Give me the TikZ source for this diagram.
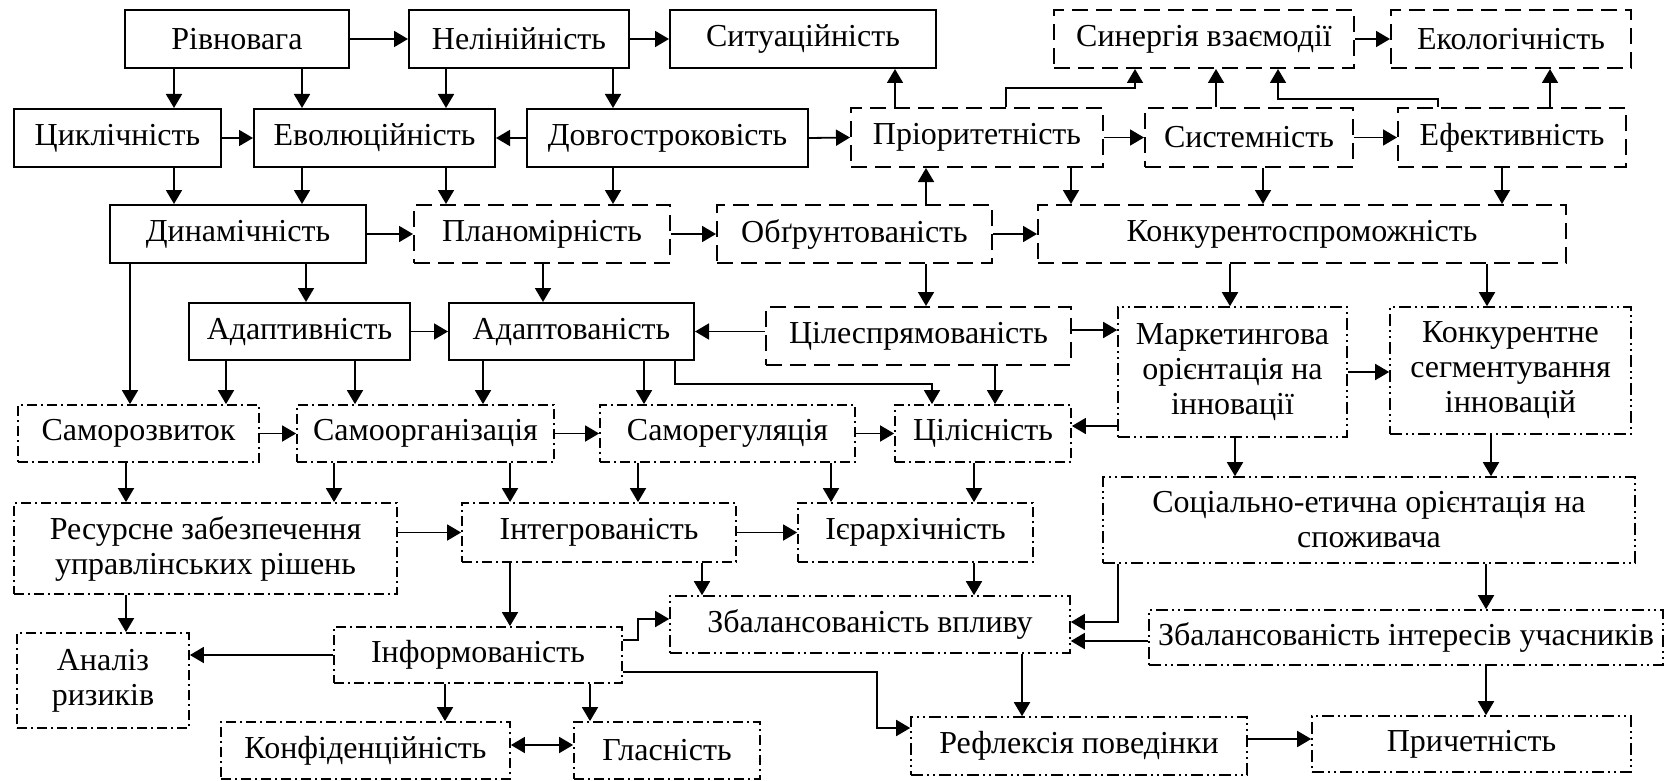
\documentclass[tikz,border=0pt]{standalone}
\usepackage{fontspec}
\setmainfont{Liberation Serif}
\usepackage{tikz}
\usetikzlibrary{arrows.meta}

\tikzset{
  box/.style={rectangle, inner sep=2pt, align=center, font=\fontsize{16}{17.5}\selectfont},
  solidbox/.style={box, draw, line width=1pt},
  dashbox/.style={box, draw, line width=1pt, dash pattern=on 8pt off 4pt},
  dotbox/.style={box, draw, line width=0.9pt, dash pattern=on 5pt off 2pt on 1pt off 2pt},
  dotdotbox/.style={box, draw, line width=0.8pt, dash pattern=on 6pt off 2pt on 1pt off 2pt on 1pt off 2pt},
  wh/.style 2 args={minimum width=#1*0.5pt, minimum height=#2*0.5pt},
  arr/.style={-{Triangle[length=7pt,width=8pt]}, line width=0.9pt},
}

\begin{document}
\begin{tikzpicture}[x=0.5pt, y=-0.5pt]
  \useasboundingbox (0,0) rectangle (1669,781);

  % solid
  \node[solidbox, wh={224}{58}] (rivn) at (237,39) {Рівновага};
  \node[solidbox, wh={220}{58}] (nelin) at (519,39) {Нелінійність};
  \node[solidbox, wh={266}{58}] (sytu) at (803,39) {Ситуаційність};
  \node[solidbox, wh={207}{58}] (cykl) at (117.5,138) {Циклічність};
  \node[solidbox, wh={241}{58}] (evol) at (374.5,138) {Еволюційність};
  \node[solidbox, wh={281}{58}] (dovh) at (667.5,138) {Довгостроковість};
  \node[solidbox, wh={256}{58}] (dynam) at (238,234) {Динамічність};
  \node[solidbox, wh={221}{57}] (adaptv) at (299.5,331.5) {Адаптивність};
  \node[solidbox, wh={245}{57}] (adapto) at (571.5,331.5) {Адаптованість};

  % dashed
  \node[dashbox, wh={300}{58}] (synerh) at (1204,39) {Синергія взаємодії};
  \node[dashbox, wh={240}{58}] (ekol) at (1511,39) {Екологічність};
  \node[dashbox, wh={252}{59}] (prior) at (977,137.5) {Пріоритетність};
  \node[dashbox, wh={208}{59}] (system) at (1249,137.5) {Системність};
  \node[dashbox, wh={228}{59}] (efekt) at (1512,137.5) {Ефективність};
  \node[dashbox, wh={256}{58}] (planom) at (542,234) {Планомірність};
  \node[dashbox, wh={275}{58}] (obgr) at (854.5,234) {Обґрунтованість};
  \node[dashbox, wh={528}{58}] (konk) at (1302,234) {Конкурентоспроможність};
  \node[dashbox, wh={305}{58}] (tsilespr) at (918.5,336) {Цілеспрямованість};

  % dash dot
  \node[dotbox, wh={241}{57}] (samrozv) at (138.5,433.5) {Саморозвиток};
  \node[dotbox, wh={257}{57}] (samorg) at (425.5,433.5) {Самоорганізація};
  \node[dotbox, wh={255}{57}] (samreg) at (727.5,433.5) {Саморегуляція};
  \node[dotbox, wh={176}{57}] (tsilisn) at (983,433.5) {Цілісність};
  \node[dotbox, wh={383}{91}] (resurs) at (205.5,548.5) {Ресурсне забезпечення\\управлінських рішень};
  \node[dotbox, wh={274}{59}] (intehr) at (599,532.5) {Інтегрованість};
  \node[dotbox, wh={235}{59}] (iyerarkh) at (915.5,532.5) {Ієрархічність};
  \node[dotbox, wh={288}{56}] (inform) at (478,655) {Інформованість};
  \node[dotbox, wh={172}{95}] (analiz) at (103,680.5) {Аналіз\\ризиків};
  \node[dotbox, wh={289}{57}] (konfid) at (365.5,750.5) {Конфіденційність};
  \node[dotbox, wh={186}{57}] (hlasn) at (667,750.5) {Гласність};

  % dash dot dot
  \node[dotdotbox, wh={229}{130}] (market) at (1232.5,372) {Маркетингова\\орієнтація на\\інновації};
  \node[dotdotbox, wh={241}{127}] (konksegm) at (1510.5,370.5) {Конкурентне\\сегментування\\інновацій};
  \node[dotdotbox, wh={532}{86}] (sots) at (1369,520) {Соціально-етична орієнтація на\\споживача};
  \node[dotdotbox, wh={400}{57}] (zbvplyv) at (870,624.5) {Збалансованість впливу};
  \node[dotdotbox, wh={514}{55}] (zbint) at (1406,637.5) {Збалансованість інтересів учасників};
  \node[dotdotbox, wh={336}{58}] (refl) at (1079,746) {Рефлексія поведінки};
  \node[dotdotbox, wh={319}{56}] (prychet) at (1471.5,744) {Причетність};

  % horizontal links
  \draw[arr] (rivn.east) -- (nelin.west);
  \draw[arr] (nelin.east) -- (sytu.west);
  \draw[arr] (synerh.east) -- (ekol.west);
  \draw[arr] (cykl.east) -- (evol.west);
  \draw[arr] (dovh.west) -- (evol.east);
  \draw[arr] (dovh.east) -- (prior.west);
  \draw[arr] (prior.east) -- (system.west);
  \draw[arr] (system.east) -- (efekt.west);
  \draw[arr] (dynam.east) -- (planom.west);
  \draw[arr] (planom.east) -- (obgr.west);
  \draw[arr] (obgr.east) -- (konk.west);
  \draw[arr] (adaptv.east) -- (adapto.west);
  \draw[arr] (tsilespr.west |- adapto.east) -- (adapto.east);
  \draw[arr] (tsilespr.east |- 0,330) -- (market.west |- 0,330);
  \draw[arr] (market.east) -- (market.east -| konksegm.west);
  \draw[arr] (market.west |- 0,426) -- (tsilisn.east |- 0,426);
  \draw[arr] (samrozv.east) -- (samorg.west);
  \draw[arr] (samorg.east) -- (samreg.west);
  \draw[arr] (samreg.east) -- (tsilisn.west);
  \draw[arr] (resurs.east |- intehr.west) -- (intehr.west);
  \draw[arr] (intehr.east) -- (iyerarkh.west);
  \draw[arr] (zbint.west |- 0,641) -- (zbvplyv.east |- 0,641);
  \draw[arr] (inform.west) -- (inform.west -| analiz.east);
  \draw[{Triangle[length=7pt,width=8pt]}-{Triangle[length=7pt,width=8pt]}, line width=0.9pt] (konfid.east |- 0,745) -- (hlasn.west |- 0,745);
  \draw[arr] (refl.east |- 0,739) -- (prychet.west |- 0,739);

  % vertical links, downwards
  \draw[arr] (174,0 |- rivn.south) -- (174,0 |- cykl.north);
  \draw[arr] (302,0 |- rivn.south) -- (302,0 |- evol.north);
  \draw[arr] (446,0 |- nelin.south) -- (446,0 |- evol.north);
  \draw[arr] (613,0 |- nelin.south) -- (613,0 |- dovh.north);
  \draw[arr] (174,0 |- cykl.south) -- (174,0 |- dynam.north);
  \draw[arr] (302,0 |- evol.south) -- (302,0 |- dynam.north);
  \draw[arr] (446,0 |- evol.south) -- (446,0 |- planom.north);
  \draw[arr] (613,0 |- dovh.south) -- (613,0 |- planom.north);
  \draw[arr] (1071,0 |- prior.south) -- (1071,0 |- konk.north);
  \draw[arr] (1263,0 |- system.south) -- (1263,0 |- konk.north);
  \draw[arr] (1502,0 |- efekt.south) -- (1502,0 |- konk.north);
  \draw[arr] (926,0 |- obgr.south) -- (926,0 |- tsilespr.north);
  \draw[arr] (543,0 |- planom.south) -- (543,0 |- adapto.north);
  \draw[arr] (306,0 |- dynam.south) -- (306,0 |- adaptv.north);
  \draw[arr] (130,0 |- dynam.south) -- (130,0 |- samrozv.north);
  \draw[arr] (1230,0 |- konk.south) -- (1230,0 |- market.north);
  \draw[arr] (1487,0 |- konk.south) -- (1487,0 |- konksegm.north);
  \draw[arr] (226,0 |- adaptv.south) -- (226,0 |- samrozv.north);
  \draw[arr] (355,0 |- adaptv.south) -- (355,0 |- samorg.north);
  \draw[arr] (483,0 |- adapto.south) -- (483,0 |- samorg.north);
  \draw[arr] (644,0 |- adapto.south) -- (644,0 |- samreg.north);
  \draw[arr] (995,0 |- tsilespr.south) -- (995,0 |- tsilisn.north);
  \draw[arr] (126,0 |- samrozv.south) -- (126,0 |- resurs.north);
  \draw[arr] (334,0 |- samorg.south) -- (334,0 |- resurs.north);
  \draw[arr] (510,0 |- samorg.south) -- (510,0 |- intehr.north);
  \draw[arr] (638,0 |- samreg.south) -- (638,0 |- intehr.north);
  \draw[arr] (831,0 |- samreg.south) -- (831,0 |- iyerarkh.north);
  \draw[arr] (974,0 |- tsilisn.south) -- (974,0 |- iyerarkh.north);
  \draw[arr] (1235,0 |- market.south) -- (1235,0 |- sots.north);
  \draw[arr] (1491,0 |- konksegm.south) -- (1491,0 |- sots.north);
  \draw[arr] (126,0 |- resurs.south) -- (126,0 |- analiz.north);
  \draw[arr] (510,0 |- intehr.south) -- (510,0 |- inform.north);
  \draw[arr] (702,0 |- intehr.south) -- (702,0 |- zbvplyv.north);
  \draw[arr] (974,0 |- iyerarkh.south) -- (974,0 |- zbvplyv.north);
  \draw[arr] (1486,0 |- sots.south) -- (1486,0 |- zbint.north);
  \draw[arr] (445,0 |- inform.south) -- (445,0 |- konfid.north);
  \draw[arr] (590,0 |- inform.south) -- (590,0 |- hlasn.north);
  \draw[arr] (1022,0 |- zbvplyv.south) -- (1022,0 |- refl.north);
  \draw[arr] (1486,0 |- zbint.south) -- (1486,0 |- prychet.north);

  % vertical links, upwards
  \draw[arr] (895,0 |- prior.north) -- (895,0 |- sytu.south);
  \draw[arr] (1216,0 |- system.north) -- (1216,0 |- synerh.south);
  \draw[arr] (1550,0 |- efekt.north) -- (1550,0 |- ekol.south);
  \draw[arr] (926,0 |- obgr.north) -- (926,0 |- prior.south);

  % elbows
  \draw[arr] (1006,0 |- prior.north) -- (1006,88) -- (1135,88) -- (1135,0 |- synerh.south);
  \draw[arr] (1438,0 |- efekt.north) -- (1438,99) -- (1278,99) -- (1278,0 |- synerh.south);
  \draw[arr] (675,0 |- adapto.south) -- (675,384) -- (932,384) -- (932,0 |- tsilisn.north);
  \draw[arr] (1118,0 |- sots.south) -- (1118,622) -- (zbvplyv.east |- 0,622);
  \draw[arr] (inform.east |- 0,640) -- (638,640) -- (638,619) -- (zbvplyv.west |- 0,619);
  \draw[arr] (inform.east |- 0,672) -- (877,672) -- (877,728) -- (refl.west |- 0,728);
\end{tikzpicture}
\end{document}
